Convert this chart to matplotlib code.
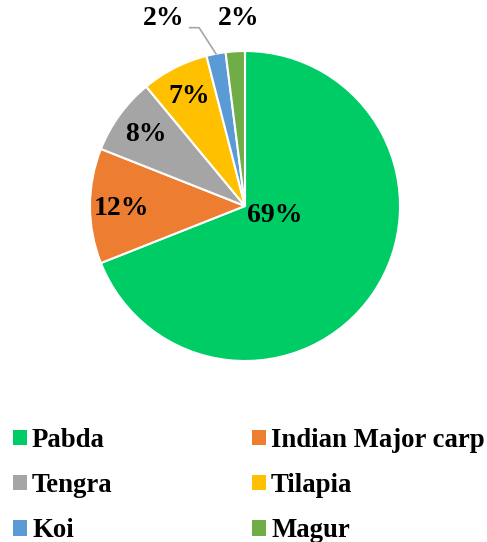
import numpy as np
import matplotlib.pyplot as plt
from matplotlib.patches import Patch

plt.rcParams['font.family'] = ['Liberation Serif', 'DejaVu Serif']
plt.rcParams['font.weight'] = 'bold'

species = ["Pabda", "Indian Major carp", "Tengra", "Tilapia", "Koi", "Magur"]
share = [69, 12, 8, 7, 2, 2]
colors = ["#00CC66", "#ED7D31", "#A5A5A5", "#FFC000", "#5B9BD5", "#70AD47"]

# label position (radius fraction, angle in deg)
lab_r = [0.20, 0.80, 0.79, 0.79, 1.32, 1.21]
lab_a = [-17, 181, 144, 117, 113.5, 92]

W, H = 487, 542
fig = plt.figure(figsize=(W / 100, H / 100), dpi=100)
ax = fig.add_axes([0, 0, 1, 1])
R = 155.0
cx, cy = 245, 206

wedges, _ = ax.pie(share, colors=colors, startangle=90, counterclock=False,
                   radius=1, wedgeprops=dict(edgecolor="white", linewidth=1.5))
ax.set_xlim(-cx / R, (W - cx) / R)
ax.set_ylim(-(H - cy) / R, cy / R)
ax.set_aspect("auto")
ax.axis("off")

for i, v in enumerate(share):
    a = np.deg2rad(lab_a[i])
    x, y = lab_r[i] * np.cos(a), lab_r[i] * np.sin(a)
    ax.text(x, y, f"{v}%", ha="center", va="center", fontsize=20, fontweight="bold")

# leader line for Koi
w = wedges[4]
mid = np.deg2rad((w.theta1 + w.theta2) / 2)
a = np.deg2rad(lab_a[4])
lx, ly = lab_r[4] * np.cos(a), lab_r[4] * np.sin(a)
ax.plot([lx + 0.17, lx + 0.23, np.cos(mid) * 1.0],
        [ly - 0.06, ly - 0.06, np.sin(mid) * 1.0],
        color="#A5A5A5", lw=1.2)

handles = [Patch(facecolor=c, edgecolor="none") for c in colors]
order = [0, 2, 4, 1, 3, 5]
fig.legend([handles[i] for i in order], [species[i] for i in order],
           ncol=2, loc="upper left", bbox_to_anchor=(13 / W, 1 - 428 / H),
           frameon=False, fontsize=19.3, handlelength=0.52, handleheight=0.52,
           handletextpad=0.19, labelspacing=0.75, columnspacing=5.2,
           borderpad=0, borderaxespad=0)

fig.savefig("out.png", dpi=100)
